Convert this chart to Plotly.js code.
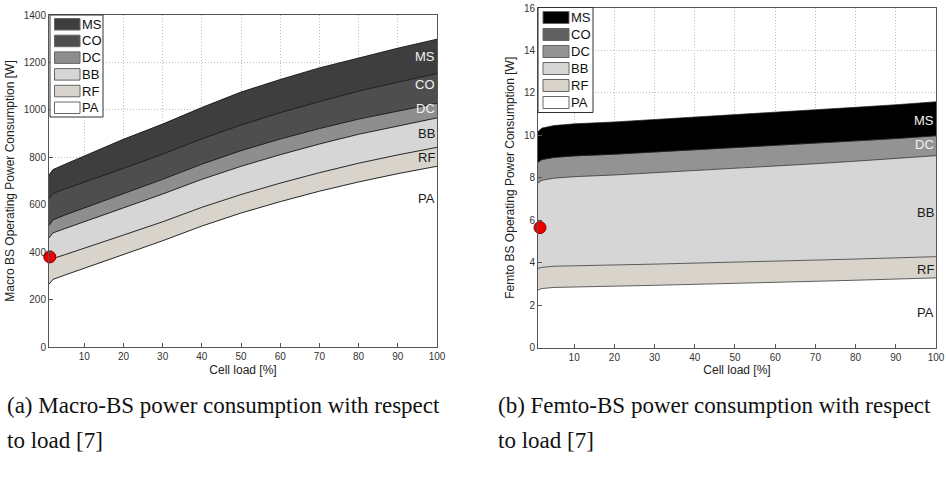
<!DOCTYPE html>
<html>
<head>
<meta charset="utf-8">
<script src="https://cdn.plot.ly/plotly-3.0.1.min.js"></script>
<style>html,body{margin:0;padding:0;background:#fff;}#chart{width:946px;height:477px;}</style>
</head>
<body>
<div id="chart"></div>
<script>
// ---- data ----
const componentNames = ["PA", "RF", "BB", "DC", "CO", "MS"];
const legendOrder = ["MS", "CO", "DC", "BB", "RF", "PA"];
const cellLoad = [1, 2, 5, 10, 20, 30, 40, 50, 60, 70, 80, 90, 100];

// Macro-BS components [W]
const macroPA = [265, 285, 303, 332, 390, 448, 510, 565, 613, 657, 696, 731, 762];
const macroRF = [90, 88, 86, 84, 82, 80, 79, 78, 78, 78, 79, 79, 80];
const macroBB = [105, 108, 110, 112, 115, 117, 118, 119, 120, 121, 122, 123, 124];
const macroDC = [52, 55, 57, 58, 60, 62, 64, 66, 66, 65, 64, 63, 62];
const macroCO = [115, 112, 110, 108, 106, 106, 107, 108, 111, 114, 118, 121, 125];
const macroMS = [98, 100, 104, 111, 123, 127, 132, 139, 140, 142, 141, 143, 145];

// Femto-BS components [W]
const femtoPA = [2.71, 2.78, 2.83, 2.86, 2.89, 2.93, 2.97, 3.02, 3.07, 3.12, 3.17, 3.22, 3.28];
const femtoRF = [1.02, 1.0, 1.0, 1.0, 1.0, 1.0, 1.0, 0.99, 0.99, 1.0, 1.0, 1.0, 1.0];
const femtoBB = [4.02, 4.10, 4.15, 4.19, 4.24, 4.30, 4.36, 4.42, 4.48, 4.54, 4.61, 4.68, 4.76];
const femtoDC = [0.98, 0.98, 0.98, 0.98, 0.98, 0.98, 0.98, 0.98, 0.97, 0.96, 0.96, 0.95, 0.94];
const femtoCO = [0, 0, 0, 0, 0, 0, 0, 0, 0, 0, 0, 0, 0];
const femtoMS = [1.45, 1.48, 1.50, 1.51, 1.52, 1.53, 1.54, 1.55, 1.56, 1.57, 1.58, 1.59, 1.60];

// highlighted points (red dots)
const macroDotX = [1.2], macroDotY = [380];
const femtoDotX = [1.5], femtoDotY = [5.65];

const xTickVals = [10, 20, 30, 40, 50, 60, 70, 80, 90, 100];
const macroYTicks = [0, 200, 400, 600, 800, 1000, 1200, 1400];
const femtoYTicks = [0, 2, 4, 6, 8, 10, 12, 14, 16];

// ---- styling ----
const macroColors = {PA: "#ffffff", RF: "#d8d4cc", BB: "#d6d6d6", DC: "#8e8e8e", CO: "#4e4e4e", MS: "#3e3e3e"};
const femtoColors = {PA: "#ffffff", RF: "#d8d4cc", BB: "#d6d6d6", DC: "#939393", CO: "#606060", MS: "#000000"};
const macroSeries = {PA: macroPA, RF: macroRF, BB: macroBB, DC: macroDC, CO: macroCO, MS: macroMS};
const femtoSeries = {PA: femtoPA, RF: femtoRF, BB: femtoBB, DC: femtoDC, CO: femtoCO, MS: femtoMS};

const traces = [];
componentNames.forEach(n => {
  traces.push({
    x: cellLoad, y: macroSeries[n], name: n, type: "scatter", mode: "lines",
    stackgroup: "macro", fillcolor: macroColors[n],
    line: {color: "#111", width: 0.9}, showlegend: false,
    xaxis: "x", yaxis: "y", hoverinfo: "x+y+name"
  });
});
componentNames.forEach(n => {
  traces.push({
    x: cellLoad, y: femtoSeries[n], name: n, type: "scatter", mode: "lines",
    stackgroup: "femto", fillcolor: femtoColors[n],
    line: {color: "#222", width: 0.7}, showlegend: false,
    xaxis: "x2", yaxis: "y2", hoverinfo: "x+y+name"
  });
});
traces.push({x: macroDotX, y: macroDotY, type: "scatter", mode: "markers", showlegend: false,
  marker: {color: "#ee0000", size: 12, line: {color: "#880000", width: 1}}, cliponaxis: false, xaxis: "x", yaxis: "y"});
traces.push({x: femtoDotX, y: femtoDotY, type: "scatter", mode: "markers", showlegend: false,
  marker: {color: "#ee0000", size: 12, line: {color: "#880000", width: 1}}, cliponaxis: false, xaxis: "x2", yaxis: "y2"});

const W = 946, H = 477;
const px = v => v / W;
const py = v => 1 - v / H;

const tickFont = {family: "Liberation Sans, Arial, sans-serif", size: 10, color: "#333"};
const titleFont = {family: "Liberation Sans, Arial, sans-serif", size: 12, color: "#222"};
const axisCommon = {
  showline: true, mirror: true, linecolor: "#555", linewidth: 1,
  ticks: "inside", ticklen: 4, tickcolor: "#555",
  showgrid: true, gridcolor: "#bdbdbd", griddash: "1px,2px", gridwidth: 1,
  zeroline: false, tickfont: tickFont
};

const inLabel = (text, y, xa, ya, light) => ({
  text: text, x: 100, y: y, xref: xa, yref: ya, xanchor: "right", yanchor: "middle",
  showarrow: false, font: {family: "Liberation Sans, Arial, sans-serif", size: 13, color: light ? "#f2f2f2" : "#1a1a1a"}
});

const capFont = {family: "Liberation Serif, Times New Roman, serif", size: 23, color: "#111"};
const cap = (text, x, y) => ({text: text, x: px(x), y: py(y), xref: "paper", yref: "paper",
  xanchor: "left", yanchor: "middle", showarrow: false, font: capFont});

// manual legend boxes (pixel geometry)
const shapes = [];
const annotations = [];
function buildLegend(colors, box, swL, swR, firstTop, pitch, swH, textX) {
  shapes.push({type: "rect", xref: "paper", yref: "paper", x0: px(box[0]), x1: px(box[1]), y0: py(box[3]), y1: py(box[2]),
    line: {color: "#333", width: 1}, fillcolor: "#ffffff", layer: "above"});
  legendOrder.forEach((n, i) => {
    const top = firstTop + i * pitch;
    shapes.push({type: "rect", xref: "paper", yref: "paper", x0: px(swL), x1: px(swR), y0: py(top + swH), y1: py(top),
      line: {color: "#666", width: 1}, fillcolor: colors[n], layer: "above"});
    annotations.push({text: n, x: px(textX), y: py(top + swH / 2), xref: "paper", yref: "paper",
      xanchor: "left", yanchor: "middle", showarrow: false,
      font: {family: "Liberation Sans, Arial, sans-serif", size: 13, color: "#111"}});
  });
}
buildLegend(macroColors, [50, 103, 15, 117], 54.5, 80, 18.5, 16.7, 11.5, 80);
buildLegend(femtoColors, [538, 593, 7.5, 112.5], 543, 569, 11.5, 17, 12, 569);

annotations.push(
  inLabel("MS", 1223, "x", "y", true),
  inLabel("CO", 1105, "x", "y", true),
  inLabel("DC", 1005, "x", "y", true),
  inLabel("BB", 902, "x", "y", false),
  inLabel("RF", 801, "x", "y", false),
  inLabel("PA", 628, "x", "y", false),
  inLabel("MS", 10.7, "x2", "y2", true),
  inLabel("DC", 9.55, "x2", "y2", true),
  inLabel("BB", 6.34, "x2", "y2", false),
  inLabel("RF", 3.66, "x2", "y2", false),
  inLabel("PA", 1.63, "x2", "y2", false),
  cap("(a) Macro-BS power consumption with respect", 5, 405),
  cap("to load [7]", 5, 440),
  cap("(b) Femto-BS power consumption with respect", 496, 405),
  cap("to load [7]", 496, 440)
);

const layout = {
  width: W, height: H,
  margin: {l: 0, r: 0, t: 0, b: 0},
  paper_bgcolor: "#ffffff", plot_bgcolor: "#ffffff",
  showlegend: false,
  xaxis: Object.assign({}, axisCommon, {domain: [px(49), px(437)], range: [1, 100], tickvals: xTickVals, anchor: "y",
    title: {text: "Cell load [%]", font: titleFont, standoff: 4}}),
  yaxis: Object.assign({}, axisCommon, {domain: [py(347), py(15)], range: [0, 1400], tickvals: macroYTicks, anchor: "x",
    title: {text: "Macro BS Operating Power Consumption [W]", font: titleFont, standoff: 6}}),
  xaxis2: Object.assign({}, axisCommon, {domain: [px(538), px(936)], range: [1, 100], tickvals: xTickVals, anchor: "y2",
    title: {text: "Cell load [%]", font: titleFont, standoff: 4}}),
  yaxis2: Object.assign({}, axisCommon, {domain: [py(347.5), py(8)], range: [0, 16], tickvals: femtoYTicks, anchor: "x2",
    title: {text: "Femto BS Operating Power Consumption [W]", font: titleFont, standoff: 6}}),
  shapes: shapes,
  annotations: annotations
};

Plotly.newPlot("chart", traces, layout, {displayModeBar: false, staticPlot: true});
</script>
</body>
</html>
